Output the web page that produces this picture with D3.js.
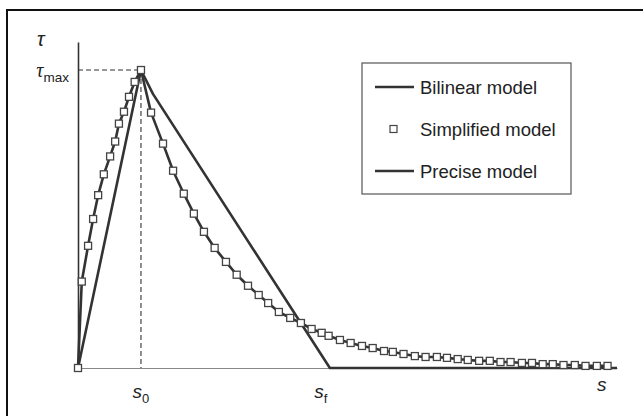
<!DOCTYPE html>
<html>
<head>
<meta charset="utf-8">
<title>Bond-slip models</title>
<script src="https://d3js.org/d3.v7.min.js"></script>
<style>
  body { margin: 0; background: #fff; }
  text { font-family: "Liberation Sans", Arial, sans-serif; fill: #222; }
</style>
</head>
<body>
<svg id="chart" width="643" height="416"></svg>
<script>
// slip s (in units of s0) and bond stress tau (in units of tau_max)
var sampleS = [0, 0.06, 0.16, 0.24, 0.32, 0.41, 0.51, 0.59, 0.65, 0.73, 0.81, 0.90, 1.0,
    1.16, 1.35, 1.51, 1.68, 1.84, 2.0, 2.17, 2.35, 2.52, 2.70, 2.87, 3.02, 3.19, 3.37,
    3.54, 3.71, 3.87, 3.98, 4.16, 4.33, 4.51, 4.68, 4.86, 5.0, 5.17, 5.35, 5.52, 5.70,
    5.86, 6.03, 6.19, 6.37, 6.54, 6.71, 6.87, 7.05, 7.21, 7.38, 7.54, 7.71, 7.89, 8.06,
    8.24, 8.41];
var sampleTau = [0, 0.29, 0.41, 0.50, 0.58, 0.65, 0.71, 0.76, 0.82, 0.86, 0.91, 0.96, 1.0,
    0.857, 0.753, 0.662, 0.585, 0.518, 0.457, 0.403, 0.356, 0.313, 0.276, 0.245, 0.218,
    0.188, 0.168, 0.151, 0.131, 0.118, 0.108, 0.094, 0.084, 0.074, 0.067, 0.057, 0.054,
    0.047, 0.040, 0.037, 0.037, 0.034, 0.030, 0.027, 0.024, 0.024, 0.020, 0.020, 0.017,
    0.017, 0.013, 0.013, 0.010, 0.010, 0.007, 0.007, 0.007];

var bilinearS = [0, 1.0, 1.19, 4.0, 8.56];
var bilinearTau = [0, 1.0, 0.92, 0, 0];

var xTicks = [1, 4];
var xTickNames = [["s", "0"], ["s", "f"]];
var yTicks = [1];
var yTickNames = [["\u03c4", "max"]];
var legendNames = ["Bilinear model", "Simplified model", "Precise model"];

var svg = d3.select("#chart");
var ink = "#333";

// outer frame (right/bottom edges fall outside the picture)
svg.append("rect")
    .attr("x", 7).attr("y", 10)
    .attr("width", 700).attr("height", 500)
    .attr("fill", "none").attr("stroke", "#111").attr("stroke-width", 2);

var x = d3.scaleLinear().domain([0, 8.56]).range([78, 617]);
var y = d3.scaleLinear().domain([0, 1.094]).range([368, 42]);

// x axis: thin grey baseline, labels s0 / sf
var gx = svg.append("g")
    .attr("transform", "translate(0," + y(0) + ")")
    .call(d3.axisBottom(x).tickValues(xTicks).tickSize(0).tickSizeOuter(0).tickPadding(11));
gx.select(".domain").attr("stroke", "#888").attr("stroke-width", 1.2);
gx.selectAll(".tick text").each(function(d, i) {
    var t = d3.select(this).text(null)
        .attr("font-size", 19).attr("font-style", "italic")
        .attr("font-family", "Liberation Sans, Arial, sans-serif")
        .attr("dy", "1.0em").attr("fill", "#222");
    t.append("tspan").text(xTickNames[i][0]);
    t.append("tspan").attr("font-size", 13).attr("font-style", "normal")
        .attr("dy", 5).text(xTickNames[i][1]);
});
gx.selectAll(".tick").attr("transform", function(d, i) {
    return "translate(" + (x(d) - (i === 1 ? 9 : 0)) + ",0)";
});

// y axis
var gy = svg.append("g")
    .attr("transform", "translate(" + x(0) + ",0)")
    .call(d3.axisLeft(y).tickValues(yTicks).tickSize(0).tickSizeOuter(0).tickPadding(9));
gy.select(".domain").attr("stroke", ink).attr("stroke-width", 1.6);
gy.selectAll(".tick text").each(function(d, i) {
    var t = d3.select(this).text(null).attr("dy", "0.6em").attr("fill", "#222");
    t.append("tspan").attr("font-size", 20)
        .attr("font-family", "Liberation Serif, serif").attr("font-style", "italic")
        .text(yTickNames[i][0]);
    t.append("tspan").attr("font-size", 13.5).attr("dy", 5).text(yTickNames[i][1]);
});

svg.append("text")
    .attr("x", 37).attr("y", 46)
    .attr("font-size", 20).attr("font-style", "italic")
    .attr("font-family", "Liberation Serif, serif")
    .text("\u03c4");

svg.append("text")
    .attr("x", 597).attr("y", 391)
    .attr("font-size", 19).attr("font-style", "italic")
    .text("s");

// dashed guides to the peak
svg.append("path")
    .attr("d", "M" + x(0) + "," + y(1) + "H" + x(1) + "V" + y(0))
    .attr("fill", "none").attr("stroke", ink).attr("stroke-width", 1.1)
    .attr("stroke-dasharray", "5,3");

var line = d3.line().x(function(d) { return x(d[0]); }).y(function(d) { return y(d[1]); });

var bilinear = bilinearS.map(function(s, i) { return [s, bilinearTau[i]]; });
var samples = sampleS.map(function(s, i) { return [s, sampleTau[i]]; });

svg.append("path").datum(bilinear)
    .attr("d", line).attr("fill", "none")
    .attr("stroke", ink).attr("stroke-width", 2.6).attr("stroke-linejoin", "round");

svg.append("path").datum(samples)
    .attr("d", line).attr("fill", "none")
    .attr("stroke", ink).attr("stroke-width", 2.6).attr("stroke-linejoin", "round");

svg.selectAll(".pt").data(samples).enter().append("rect")
    .attr("class", "pt")
    .attr("x", function(d) { return x(d[0]) - 3.5; })
    .attr("y", function(d) { return y(d[1]) - 3.5; })
    .attr("width", 7).attr("height", 7)
    .attr("fill", "#fff").attr("stroke", "#444").attr("stroke-width", 1.3);

// legend
var lg = svg.append("g");
lg.append("rect")
    .attr("x", 362).attr("y", 63).attr("width", 209).attr("height", 131)
    .attr("fill", "#fff").attr("stroke", "#555").attr("stroke-width", 1.2);

var rowY = [87, 129, 171];
legendNames.forEach(function(name, i) {
    if (i === 1) {
        lg.append("rect")
            .attr("x", 390).attr("y", rowY[i] - 3.5).attr("width", 7).attr("height", 7)
            .attr("fill", "#fff").attr("stroke", "#444").attr("stroke-width", 1.2);
    } else {
        lg.append("line")
            .attr("x1", 375).attr("x2", 414).attr("y1", rowY[i]).attr("y2", rowY[i])
            .attr("stroke", ink).attr("stroke-width", 2.6);
    }
    lg.append("text")
        .attr("x", 420).attr("y", rowY[i] + 6.5)
        .attr("font-size", 18.5)
        .text(name);
});
</script>
</body>
</html>
